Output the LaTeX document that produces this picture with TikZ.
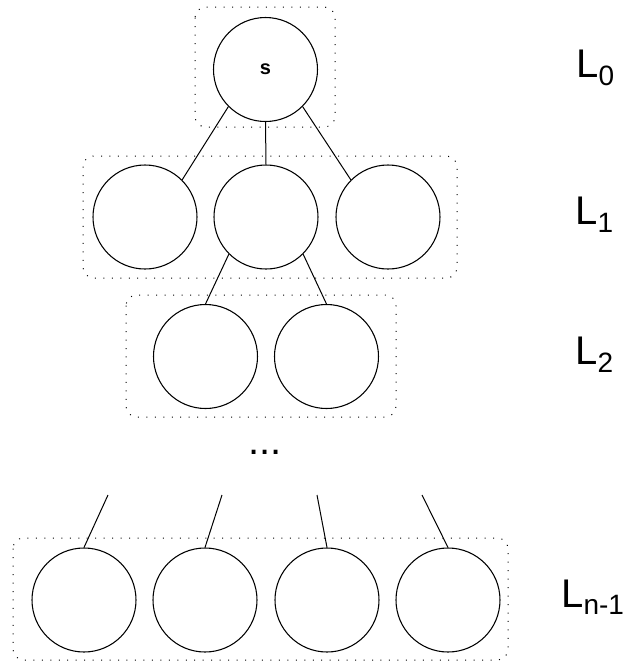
\documentclass[tikz,border=0pt]{standalone}
\usepackage{fontspec}
\setmainfont{Liberation Sans}

\tikzset{
  vertex/.style={circle, draw, line width=0.8pt, minimum size=78pt, inner sep=0pt},
  layerbox/.style={line width=0.75pt, dash pattern=on 0.75pt off 5.6pt, rounded corners=8pt},
  link/.style={line width=0.75pt},
  layerlabel/.style={anchor=base west, inner sep=0pt, font=\fontsize{30}{36}\selectfont}
}

\begin{document}
\begin{tikzpicture}[x=0.75pt, y=-0.75pt]
  \useasboundingbox (0,0) rectangle (629,662);

  % Layer boxes
  \draw[layerbox] (195,7) rectangle (335,127);
  \draw[layerbox] (83,156) rectangle (457,278);
  \draw[layerbox] (126,295) rectangle (396,417);
  \draw[layerbox] (13,538) rectangle (508,660);

  % Root
  \node[vertex, font=\bfseries\fontsize{15}{18}\selectfont] (s) at (265.5,69.5) {s};

  % Layer 1
  \node[vertex] (a1) at (145,217) {};
  \node[vertex] (a2) at (266,217) {};
  \node[vertex] (a3) at (388,217) {};

  % Layer 2
  \node[vertex] (b1) at (205.5,356.5) {};
  \node[vertex] (b2) at (326.5,356.5) {};

  % Last layer
  \node[vertex] (c1) at (84,600) {};
  \node[vertex] (c2) at (205,600) {};
  \node[vertex] (c3) at (327,600) {};
  \node[vertex] (c4) at (448,600) {};

  % Edges
  \draw[link] (s.225) -- (a1.45);
  \draw[link] (s.south) -- (a2.north);
  \draw[link] (s.-45) -- (a3.135);
  \draw[link] (a2.225) -- (b1.north);
  \draw[link] (a2.-45) -- (b2.north);

  % Loose edges into last layer
  \coordinate (u1) at (108,495);
  \coordinate (u2) at (222,495);
  \coordinate (u3) at (317,495);
  \coordinate (u4) at (422,495);
  \draw[link] (u1) -- (c1.north);
  \draw[link] (u2) -- (c2.north);
  \draw[link] (u3) -- (c3.north);
  \draw[link] (u4) -- (c4.north);

  % Dots
  \node[inner sep=0pt, font=\fontsize{30}{36}\selectfont] (dots) at (265,452) {...};

  % Labels
  \node[layerlabel] (l0) at (576,77) {L\textsubscript{0}};
  \node[layerlabel] (l1) at (575,224.5) {L\textsubscript{1}};
  \node[layerlabel] (l2) at (575,364) {L\textsubscript{2}};
  \node[layerlabel] (ln) at (561,607) {L\textsubscript{n-1}};
\end{tikzpicture}
\end{document}
